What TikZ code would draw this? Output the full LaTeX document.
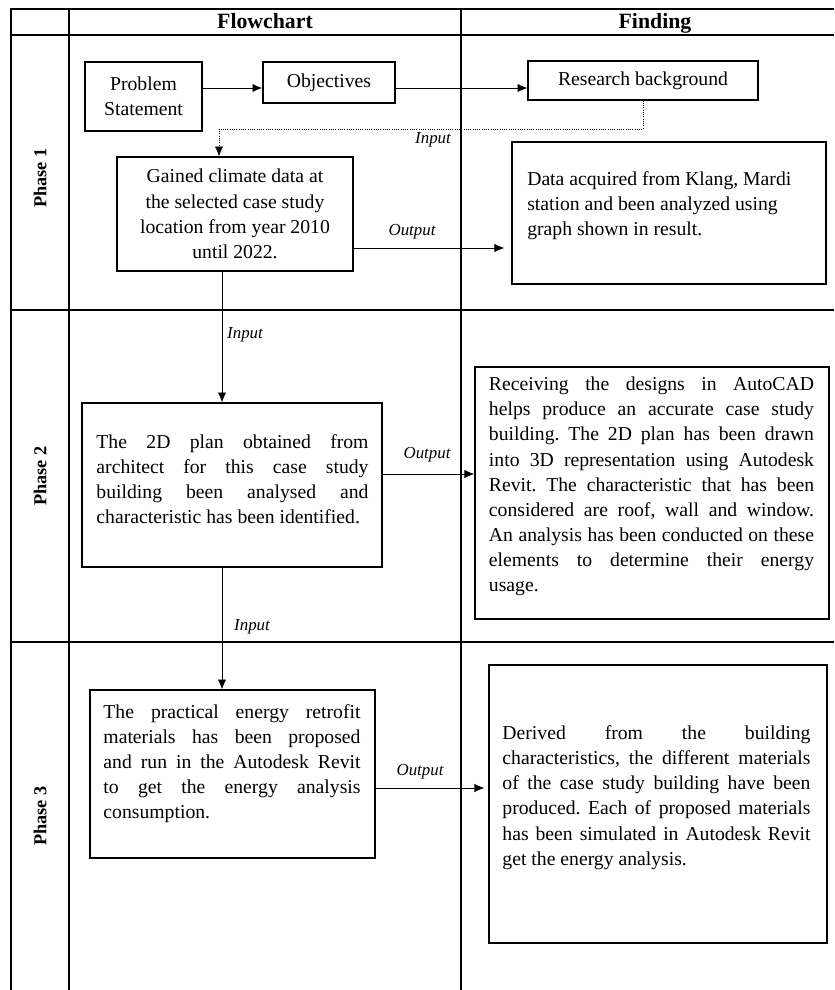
\documentclass[tikz,border=0pt]{standalone}
\usepackage{fontspec}
\setmainfont{Liberation Serif}
\usetikzlibrary{arrows.meta, positioning, calc}

\newcommand{\bodyfont}{\fontsize{14}{17.9}\selectfont\frenchspacing}
\newcommand{\tagfont}{\fontsize{12}{14}\selectfont\itshape}
\tolerance=10000
\hbadness=10000

\tikzset{
  box/.style={draw, line width=0.9pt, inner sep=0pt, font=\bodyfont, align=center},
  para/.style={inner sep=0pt, font=\bodyfont, align=justify},
  tag/.style={inner sep=0pt, font=\tagfont},
  arr/.style={-{Latex[length=7pt,width=6pt]}, line width=0.6pt},
  dotarr/.style={arr, densely dotted},
  rule/.style={line width=0.8pt},
  head/.style={anchor=base, inner sep=0pt, font=\fontsize{15.5}{18}\selectfont\bfseries},
  phase/.style={rotate=90, font=\fontsize{13}{15}\selectfont\bfseries}
}

\begin{document}
\begin{tikzpicture}[x=0.025cm, y=-0.025cm]
\useasboundingbox (0,0) rectangle (834,990);

% table
\draw[rule] (11,990) -- (11,9) -- (834,9);
\draw[rule] (69,9) -- (69,990);
\draw[rule] (461,9) -- (461,990);
\foreach \yy in {35,310,642}
  \draw[rule] (11,\yy) -- (834,\yy);

\node[head] (hflow) at (265,28.5) {Flowchart};
\node[head] (hfind) at (655,28.5) {Finding};
\node[phase] (ph1) at (40,178) {Phase 1};
\node[phase] (ph2) at (40,476) {Phase 2};
\node[phase] (ph3) at (40,816) {Phase 3};

% phase 1
\node[box, minimum width=2.925cm, minimum height=1.725cm] (ps) at (143.5,96.5) {Problem\\Statement};
\node[box, minimum width=3.3cm, minimum height=1.025cm] (obj) at (329,82.5) {Objectives};
\node[box, minimum width=5.75cm, minimum height=0.975cm] (rb) at (643,80.5) {Research background};
\node[box, minimum width=5.9cm, minimum height=2.85cm] (clim) at (235,214)
  {Gained climate data at\\the selected case study\\location from year 2010\\until 2022.};
\node[box, minimum width=7.85cm, minimum height=3.55cm] (data) at (669,213) {};
\node[para, align=left, anchor=west] (dataT) at (527,205.5)
  {Data acquired from Klang, Mardi\\station and been analyzed using\\graph shown in result.};

\coordinate (r1) at (0,88);
\coordinate (bend) at (219,129);
\coordinate (o1) at (0,248);
\coordinate (cx) at (222,0);
\draw[arr] (ps.east |- r1) -- (obj.west |- r1);
\draw[arr] (obj.east |- r1) -- (rb.west |- r1);
\draw[dotarr] (rb.south) |- (bend) -- (bend |- clim.north);
\draw[arr, shorten >=0.175cm] (clim.east |- o1) -- (data.west |- o1);
\node[tag] (in1) at (433,140) {Input};
\node[tag] (out1) at (412,232) {Output};

% phase 2
\node[box, minimum width=7.5cm, minimum height=4.1cm] (plan) at (232,485) {};
\node[para, text width=6.8cm] (planT) at (232.5,479)
  {The 2D plan obtained from\linebreak architect for this case study\linebreak
   building been analysed and\linebreak characteristic has been identified.};
\node[box, minimum width=8.85cm, minimum height=6.3cm] (rcv) at (652,493) {};
\node[para, text width=8.125cm] (rcvT) at (651.5,486.5)
  {Receiving the designs in AutoCAD\linebreak helps produce an accurate case study\linebreak
   building. The 2D plan has been drawn\linebreak into 3D representation using Autodesk\linebreak
   Revit. The characteristic that has been\linebreak considered are roof, wall and window.\linebreak
   An analysis has been conducted on these\linebreak elements to determine their energy\linebreak usage.};

\coordinate (o2) at (0,474);
\draw[arr] (clim.south -| cx) -- (plan.north -| cx);
\draw[arr] (plan.east |- o2) -- (rcv.west |- o2);
\node[tag] (in2) at (245,335) {Input};
\node[tag] (out2) at (427,455) {Output};

% phase 3
\node[box, minimum width=7.125cm, minimum height=4.2cm] (prac) at (232.5,774) {};
\node[para, text width=6.425cm] (pracT) at (232,763.5)
  {The practical energy retrofit\linebreak materials has been proposed\linebreak
   and run in the Autodesk Revit\linebreak to get the energy analysis\linebreak consumption.};
\node[box, minimum width=8.45cm, minimum height=6.95cm] (der) at (658,804) {};
\node[para, text width=7.7cm] (derT) at (656.5,797.5)
  {Derived from the building\linebreak characteristics, the different materials\linebreak
   of the case study building have been\linebreak produced. Each of proposed materials\linebreak
   has been simulated in Autodesk Revit\linebreak get the energy analysis.};

\coordinate (o3) at (0,788);
\draw[arr] (plan.south -| cx) -- (prac.north -| cx);
\draw[arr, shorten >=0.1cm] (prac.east |- o3) -- (der.west |- o3);
\node[tag] (in3) at (252,627) {Input};
\node[tag] (out3) at (420,772) {Output};
\end{tikzpicture}
\end{document}
